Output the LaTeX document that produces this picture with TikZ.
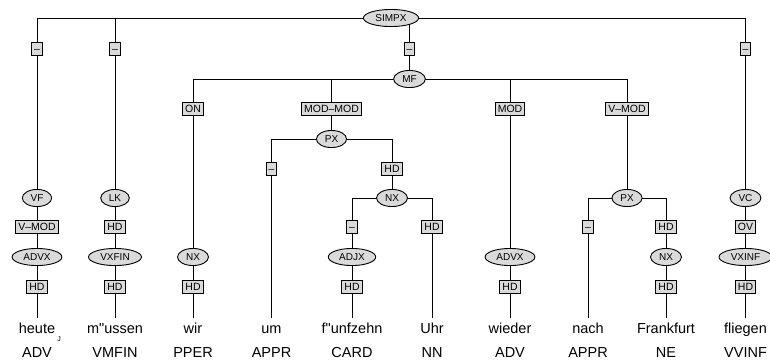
\documentclass[tikz,border=0pt]{standalone}
\usepackage{fontspec}
\setmainfont{Liberation Sans}
\usetikzlibrary{shapes.geometric,backgrounds}
\definecolor{nodegray}{RGB}{218,218,218}
\begin{document}
\begin{tikzpicture}[x=1pt,y=-1pt,
  cat/.style={ellipse,draw=black,line width=0.9pt,fill=nodegray,font=\fontsize{10}{10}\selectfont,inner xsep=4pt,inner ysep=2.4pt,text height=7.3pt,text depth=0pt},
  lab/.style={rectangle,draw=black,line width=0.9pt,fill=nodegray,font=\fontsize{10.5}{10.5}\selectfont,inner xsep=2.5pt,inner ysep=2.3pt,text height=7.6pt,text depth=0pt},
  word/.style={font=\fontsize{14.5}{14.5}\selectfont,inner sep=0pt,text height=15pt,text depth=0pt,anchor=base},
  postag/.style={font=\fontsize{14.5}{14.5}\selectfont,inner sep=0pt,anchor=base},
  conn/.style={line width=1pt,draw=black}]
\useasboundingbox (0,0) rectangle (770,360);

% tree nodes
\node[cat] (simpx) at (391,18) {SIMPX};
\node[lab] (l1) at (37,49) {\textendash};
\node[lab] (l2) at (115,49) {\textendash};
\node[lab] (l3) at (409.5,49) {\textendash};
\node[lab] (l4) at (745.5,49) {\textendash};
\node[cat] (mf) at (409.5,79) {MF};
\node[lab] (on) at (193,109) {ON};
\node[lab] (modmod) at (331.5,109) {MOD\textendash MOD};
\node[lab] (mod) at (510,109) {MOD};
\node[lab] (vmodb) at (627,109) {V\textendash MOD};
\node[cat] (pxa) at (331.5,139) {PX};
\node[lab] (pxaa) at (271.5,169) {\textendash};
\node[lab] (pxab) at (392,169) {HD};
\node[cat] (nxb) at (392,198) {NX};
\node[lab] (nxba) at (352,227) {\textendash};
\node[lab] (nxbb) at (432,227) {HD};
\node[cat] (vf) at (37,198) {VF};
\node[lab] (vmoda) at (37,227) {V\textendash MOD};
\node[cat] (advxa) at (37,257) {ADVX};
\node[lab] (hda) at (37,287) {HD};
\node[cat] (lk) at (115,198) {LK};
\node[lab] (lkhd) at (115,227) {HD};
\node[cat] (vxfin) at (115,257) {VXFIN};
\node[lab] (hdb) at (115,287) {HD};
\node[cat] (nxa) at (193,257) {NX};
\node[lab] (hdc) at (193,287) {HD};
\node[cat] (adjx) at (352,257) {ADJX};
\node[lab] (hde) at (352,287) {HD};
\node[cat] (advxb) at (510,257) {ADVX};
\node[lab] (hdg) at (510,287) {HD};
\node[cat] (pxb) at (627,198) {PX};
\node[lab] (pxba) at (588,227) {\textendash};
\node[lab] (pxbb) at (666,227) {HD};
\node[cat] (nxc) at (666,257) {NX};
\node[lab] (hdi) at (666,287) {HD};
\node[cat] (vc) at (745.5,198) {VC};
\node[lab] (ov) at (745.5,227) {OV};
\node[cat] (vxinf) at (745.5,257) {VXINF};
\node[lab] (hdj) at (745.5,287) {HD};

% words
\node[word] (wa) at (37,333) {heute};
\node[word] (wb) at (115,333) {m\textquotedbl ussen};
\node[word] (wc) at (193,333) {wir};
\node[word] (wd) at (271.5,333) {um};
\node[word] (we) at (352,333) {f\textquotedbl unfzehn};
\node[word] (wf) at (432,333) {Uhr};
\node[word] (wg) at (510,333) {wieder};
\node[word] (wh) at (588,333) {nach};
\node[word] (wi) at (666,333) {Frankfurt};
\node[word] (wj) at (745.5,333) {fliegen};
\node[font=\fontsize{7}{7}\selectfont,inner sep=0pt] (mark) at (59,339) {J};

% POS tags
\node[postag] (pa) at (37,357) {ADV};
\node[postag] (pb) at (115,357) {VMFIN};
\node[postag] (pc) at (193,357) {PPER};
\node[postag] (pd) at (271.5,357) {APPR};
\node[postag] (pe) at (352,357) {CARD};
\node[postag] (pf) at (432,357) {NN};
\node[postag] (pg) at (510,357) {ADV};
\node[postag] (ph) at (588,357) {APPR};
\node[postag] (pi) at (666,357) {NE};
\node[postag] (pj) at (745.5,357) {VVINF};

% connectors
\begin{pgfonlayer}{background}
\draw[conn] (simpx.center) -| (vf.center);
\draw[conn] (simpx.center) -| (lk.center);
\draw[conn] (simpx.center) -| (mf.center);
\draw[conn] (simpx.center) -| (vc.center);
\draw[conn] (vf.center) -- (advxa.center);
\draw[conn] (advxa.center) -- (wa.north);
\draw[conn] (lk.center) -- (vxfin.center);
\draw[conn] (vxfin.center) -- (wb.north);
\draw[conn] (mf.center) -| (nxa.center);
\draw[conn] (nxa.center) -- (wc.north);
\draw[conn] (mf.center) -| (pxa.center);
\draw[conn] (pxa.center) -| (wd.north);
\draw[conn] (pxa.center) -| (nxb.center);
\draw[conn] (nxb.center) -| (adjx.center);
\draw[conn] (adjx.center) -- (we.north);
\draw[conn] (nxb.center) -| (wf.north);
\draw[conn] (mf.center) -| (advxb.center);
\draw[conn] (advxb.center) -- (wg.north);
\draw[conn] (mf.center) -| (pxb.center);
\draw[conn] (pxb.center) -| (wh.north);
\draw[conn] (pxb.center) -| (nxc.center);
\draw[conn] (nxc.center) -- (wi.north);
\draw[conn] (vc.center) -- (vxinf.center);
\draw[conn] (vxinf.center) -- (wj.north);
\end{pgfonlayer}
\end{tikzpicture}
\end{document}
